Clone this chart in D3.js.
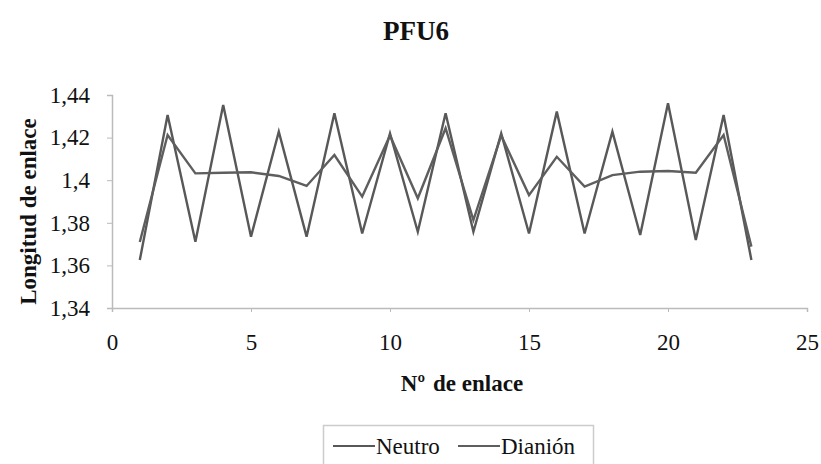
<!DOCTYPE html>
<html lang="es">
  <head>
    <meta charset="utf-8">
    <title>PFU6</title>
    <script src="https://d3js.org/d3.v7.js"></script>
    <style>
      body { margin: 0; background: white; }
      svg text { font-family: "Liberation Serif", "DejaVu Serif", serif !important; fill: #111; }
    </style>
  </head>
  <body>
    <script>
      // data
      const enlace = [1, 2, 3, 4, 5, 6, 7, 8, 9, 10, 11, 12, 13, 14, 15, 16, 17, 18, 19, 20, 21, 22, 23];
      const neutro = [1.3625, 1.4306, 1.3711, 1.4353, 1.3735, 1.4228, 1.3735, 1.4314, 1.375, 1.422, 1.3758, 1.4314,
                      1.3758, 1.422, 1.375, 1.4322, 1.375, 1.4228, 1.3743, 1.4361, 1.3719, 1.4306, 1.3625];
      const dianion = [1.371, 1.4212, 1.4032, 1.4035, 1.4037, 1.402, 1.3973, 1.4118, 1.3923, 1.421, 1.3915, 1.4244,
                       1.3813, 1.421, 1.393, 1.411, 1.397, 1.4024, 1.4040, 1.4043, 1.4035, 1.4212, 1.3688];
      const xTicks = [0, 5, 10, 15, 20, 25];
      const yTicks = [1.34, 1.36, 1.38, 1.40, 1.42, 1.44];
      const seriesNames = ["Neutro", "Dianión"];

      const w = 821;
      const h = 464;
      const margin = {top: 95, right: 14, bottom: 156, left: 112};

      const xScale = d3.scaleLinear()
                       .domain([0, 25])
                       .range([margin.left, w - margin.right]);

      const yScale = d3.scaleLinear()
                       .domain([1.34, 1.44])
                       .range([h - margin.bottom, margin.top]);

      const fmt = d => d3.format(".2~f")(d).replace(".", ",");

      const svg = d3.select("body")
                    .append("svg")
                    .attr("width", w)
                    .attr("height", h);

      svg.append("rect")
         .attr("width", w)
         .attr("height", h)
         .attr("fill", "white");

      // title
      svg.append("text")
         .attr("x", 416)
         .attr("y", 40)
         .attr("text-anchor", "middle")
         .attr("font-size", 27)
         .attr("font-weight", "bold")
         .text("PFU6");

      // axes
      const xAxis = d3.axisBottom(xScale)
                      .tickValues(xTicks)
                      .tickSize(4)
                      .tickPadding(22)
                      .tickFormat(d3.format("d"));

      const yAxis = d3.axisLeft(yScale)
                      .tickValues(yTicks)
                      .tickSize(5)
                      .tickPadding(17)
                      .tickFormat(fmt);

      const gx = svg.append("g")
                    .attr("transform", `translate(0, ${h - margin.bottom})`)
                    .call(xAxis);

      const gy = svg.append("g")
                    .attr("transform", `translate(${margin.left}, 0)`)
                    .call(yAxis);

      [gx, gy].forEach(g => {
        g.attr("font-family", null);
        g.select(".domain").attr("stroke", "#bbb").attr("stroke-width", 1.5);
        g.selectAll(".tick line").attr("stroke", "#bbb");
        g.selectAll(".tick text")
         .attr("font-size", 23)
         .attr("fill", "#111");
      });

      // axis titles
      svg.append("text")
         .attr("transform", `translate(36, ${(margin.top + h - margin.bottom) / 2 + 10}) rotate(-90)`)
         .attr("text-anchor", "middle")
         .attr("font-size", 23)
         .attr("font-weight", "bold")
         .text("Longitud de enlace");

      const xt = svg.append("text")
                    .attr("x", 462)
                    .attr("y", 391)
                    .attr("text-anchor", "middle")
                    .attr("font-size", 23)
                    .attr("font-weight", "bold");
      xt.append("tspan").text("Nº");
      xt.append("tspan").attr("dx", 8).text("de enlace");

      // lines
      const line = d3.line()
                     .x((d, i) => xScale(enlace[i]))
                     .y(d => yScale(d));

      const colors = ["#585858", "#5e5e5e"];

      [neutro, dianion].forEach((s, k) => {
        svg.append("path")
           .datum(s)
           .attr("fill", "none")
           .attr("stroke", colors[k])
           .attr("stroke-width", 2.4)
           .attr("stroke-linejoin", "miter")
           .attr("d", line);
      });

      // legend
      const legend = svg.append("g");
      legend.append("rect")
            .attr("x", 323.5)
            .attr("y", 425.5)
            .attr("width", 270)
            .attr("height", 50)
            .attr("fill", "white")
            .attr("stroke", "#ccc")
            .attr("stroke-width", 1.5);

      const legX = [333, 458];
      seriesNames.forEach((name, k) => {
        legend.append("line")
              .attr("x1", legX[k])
              .attr("x2", legX[k] + 42)
              .attr("y1", 446)
              .attr("y2", 446)
              .attr("stroke", colors[k])
              .attr("stroke-width", 2);
        legend.append("text")
              .attr("x", legX[k] + 43)
              .attr("y", 454)
              .attr("font-size", 23)
              .text(name);
      });
    </script>
  </body>
</html>
